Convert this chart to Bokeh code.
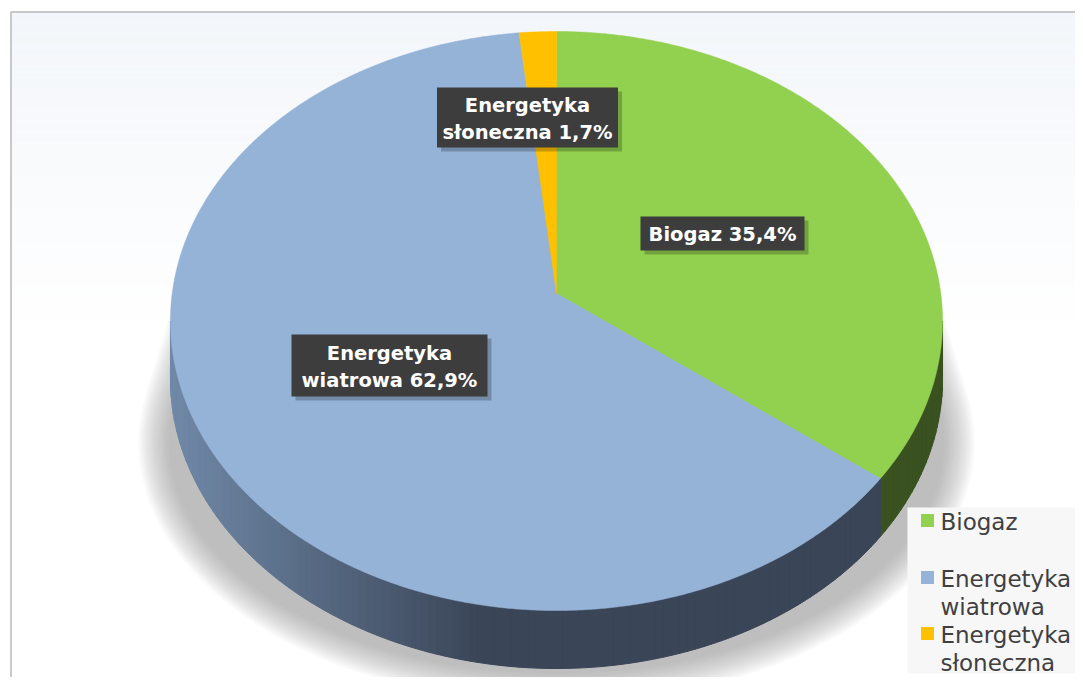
import numpy as np
from bokeh.plotting import figure
from bokeh.models import Range1d
from bokeh.core.properties import value
from bokeh.embed import file_html
from bokeh.resources import INLINE

# ---- data ----
categories = ["Biogaz", "Energetyka wiatrowa", "Energetyka słoneczna"]
values = [35.4, 62.9, 1.7]
top_colors = ["#92D050", "#95B3D7", "#FFC000"]

# ---- layout constants (pixel coordinates of the picture) ----
W, H = 1075, 677
cx, cy0 = 556, 293           # projected pie centre (apex)
AX, BY, K = 384.3, 286.9, 0.095   # perspective disc projection
depth = 58
LABEL_FONT = "DejaVu Sans"
LEGEND_FONT = "DejaVu Sans"

p = figure(width=W, height=H, x_range=Range1d(0, W), y_range=Range1d(H, 0),
           output_backend="svg", toolbar_location=None, min_border=0,
           x_axis_type=None, y_axis_type=None)
p.grid.visible = False
p.outline_line_color = None
p.background_fill_color = "white"
p.border_fill_color = "white"

# background gradient inside chart area
nb = 30
for i in range(nb):
    t = i / (nb - 1)
    c = np.array([0xF3, 0xF6, 0xFA]) * (1 - t) + np.array([0xFF, 0xFF, 0xFF]) * t
    col = "#%02X%02X%02X" % tuple(int(round(v)) for v in c)
    y0 = 11 + i * 11
    p.quad(left=10, right=W + 5, top=y0, bottom=y0 + 11, fill_color=col, line_color=None)
# border
p.line([10.5, 10.5, W + 5], [H + 10, 11.5, 11.5], line_color="#C9C9C9", line_width=2)


def pt(theta, dy=0.0):
    """Perspective projection of the pie rim; theta clockwise from 12 o'clock."""
    u, v = np.sin(theta), -np.cos(theta)
    d = 1 - K * v
    return cx + AX * u / d, cy0 + BY * v / d + dy


def ell(theta, r_x, r_y, c_y):
    return cx + r_x * np.sin(theta), c_y - r_y * np.cos(theta)


def hull(pts):
    pts = sorted(map(tuple, pts))

    def cross(o, a, b):
        return (a[0] - o[0]) * (b[1] - o[1]) - (a[1] - o[1]) * (b[0] - o[0])
    lower, upper = [], []
    for q in pts:
        while len(lower) >= 2 and cross(lower[-2], lower[-1], q) <= 0:
            lower.pop()
        lower.append(q)
    for q in reversed(pts):
        while len(upper) >= 2 and cross(upper[-2], upper[-1], q) <= 0:
            upper.pop()
        upper.append(q)
    h = np.array(lower[:-1] + upper[:-1])
    return h[:, 0], h[:, 1]


# soft perspective shadow (hull of a small high ellipse and a large low ellipse)
tt = np.linspace(0, 2 * np.pi, 200)
for e in np.linspace(-12, 18, 14):
    xa, ya = ell(tt, 352 + e, 175 + e * 0.4, 275)
    xb, yb = ell(tt, 400 + e, 243 + e, 442)
    hx, hy = hull(np.column_stack([np.concatenate([xa, xb]), np.concatenate([ya, yb])]))
    p.patch(hx, hy, fill_color="#8A8A8A", fill_alpha=0.05, line_color=None)

# cumulative angles (clockwise from 12 o'clock)
fr = np.array(values) / sum(values)
starts = np.concatenate([[0], np.cumsum(fr)[:-1]]) * 2 * np.pi
ends = np.cumsum(fr) * 2 * np.pi


def lerp_col(c0, c1, t):
    a = np.array([int(c0[i:i + 2], 16) for i in (1, 3, 5)])
    b = np.array([int(c1[i:i + 2], 16) for i in (1, 3, 5)])
    c = a * (1 - t) + b * t
    return "#%02X%02X%02X" % tuple(int(round(v)) for v in c)


# (light colour at left, dark colour at right, x where dark is reached)
side_cols = [("#3E5623", "#3A5120", 940), ("#7089A8", "#3A4557", 480), ("#8A6A00", "#8A6A00", 900)]

# sides (front, between the two widest points of the rim)
vis0 = np.arccos(-K)
vis1 = 2 * np.pi - vis0
xleft = cx - AX / np.sqrt(1 - K * K)
for s, e_, (c0, c1, xd) in zip(starts, ends, side_cols):
    a0, a1 = max(s, vis0), min(e_, vis1)
    if a1 <= a0:
        continue
    n = max(2, int((a1 - a0) / 0.02))
    th = np.linspace(a0, a1, n + 1)
    xs, ys, cols = [], [], []
    for i in range(n):
        xa, ya = pt(th[i])
        xb, yb = pt(th[i + 1])
        xs.append([xa, xb, xb, xa])
        ys.append([ya, yb, yb + depth, ya + depth])
        t = np.clip(((xa + xb) / 2 - xleft) / (xd - xleft), 0, 1)
        cols.append(lerp_col(c0, c1, t))
    p.patches(xs, ys, fill_color=cols, line_color=cols, line_width=1)

# top faces
for s, e_, col in zip(starts, ends, top_colors):
    th = np.linspace(s, e_, max(3, int((e_ - s) / 0.01)))
    x, y = pt(th)
    p.patch(np.concatenate([[cx], x]), np.concatenate([[cy0], y]),
            fill_color=col, line_color=col, line_width=0.5)


# data labels
def pct(v):
    return ("%.1f" % v).replace(".", ",") + "%"


label_lines = []
for c, v in zip(categories, values):
    parts = c.split(" ", 1)
    if len(parts) == 1:
        label_lines.append([f"{c} {pct(v)}"])
    else:
        label_lines.append([parts[0], f"{parts[1]} {pct(v)}"])

# box centers / sizes (layout)
boxes = [(722, 233, 164, 34), (389, 365, 196, 62), (527, 117, 181, 60)]
for lines, (bx, by, bw, bh) in zip(label_lines, boxes):
    p.rect(bx + 4, by + 4, bw, bh, fill_color="#000000", fill_alpha=0.22, line_color=None)
    p.rect(bx, by, bw, bh, fill_color="#3D3D3D", line_color=None)
    nl = len(lines)
    for j, ln in enumerate(lines):
        yy = by + (j - (nl - 1) / 2) * 27
        p.text([bx], [yy + 1], text=[ln], text_align="center", text_baseline="middle",
               text_color="white", text_font=value(LABEL_FONT), text_font_style="bold",
               text_font_size="19.5px")

# legend
p.quad(left=907, right=W + 5, top=507, bottom=673, fill_color="#F7F7F7", line_color=None)
entry_y = [520, 577, 633]
for c, col, ey in zip(categories, top_colors, entry_y):
    p.rect([927], [ey], 13, 13, fill_color=col, line_color=None)
    for j, ln in enumerate(c.split(" ")):
        p.text([940], [ey + j * 28 + 1], text=[ln], text_align="left", text_baseline="middle",
               text_color="#404040", text_font=value(LEGEND_FONT), text_font_size="23px")

open("out.html", "w").write(file_html(p, INLINE))
